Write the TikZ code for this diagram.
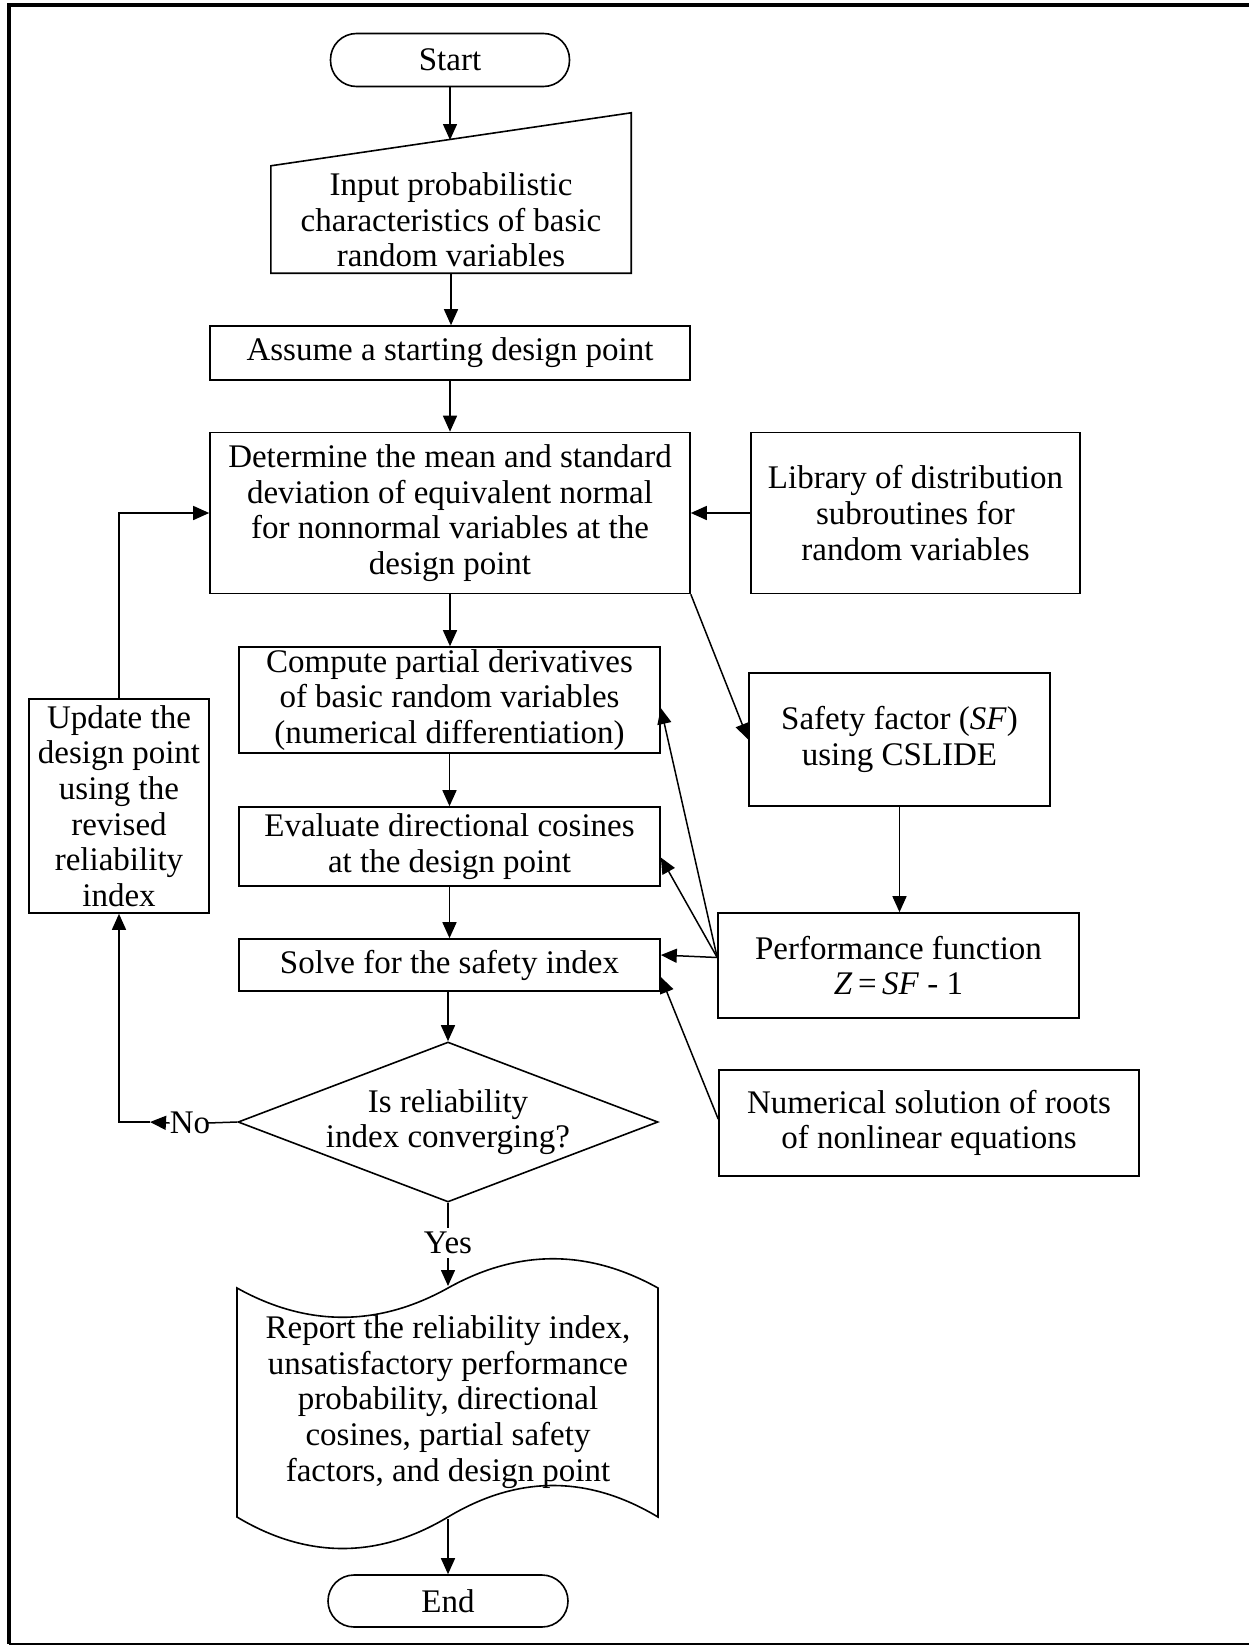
\documentclass[tikz,border=0pt]{standalone}
\usepackage{fontspec}
\setmainfont{Liberation Serif}
\usetikzlibrary{arrows.meta,shapes.geometric,calc}
\begin{document}
\begin{tikzpicture}[x=1pt,y=-1pt,
  font=\fontsize{33}{35.7}\selectfont,
  box/.style={draw,line width=1.6pt,align=center,inner sep=0pt},
  arr/.style={line width=1.5pt,-{Triangle[length=16pt,width=14pt]}},
  ln/.style={line width=1.5pt},
  lbl/.style={align=center,inner sep=0pt}]
\useasboundingbox (0,0) rectangle (1249,1646);
\fill[white] (0,0) rectangle (1249,1646);
% frame
\draw[line width=4pt] (1249,5) -- (9,5) -- (9,1644);
\draw[line width=2.5pt] (9,1644) -- (1249,1644);

% nodes
\node[box,rounded corners=26pt,minimum width=239pt,minimum height=53pt] (start) at (450,60) {Start};

\node[inner sep=0pt,minimum width=360pt,minimum height=160pt] (inp) at (451,193) {};
\draw[line width=1.6pt] (inp.south west) -- ($(inp.north west)+(0,53)$) -- (inp.north east) -- (inp.south east) -- cycle;
\node[lbl] (inptext) at (451,220) {Input probabilistic\\characteristics of basic\\random variables};
\coordinate (inptop) at (450,140);

\node[box,minimum width=480pt,minimum height=54pt] (assume) at (450,353) {Assume a starting design point};
\node[box,minimum width=480pt,minimum height=161pt] (det) at (450,513) {Determine the mean and standard\\deviation of equivalent normal\\for nonnormal variables at the\\design point};
\node[box,minimum width=329pt,minimum height=161pt] (lib) at (915.5,513) {Library of distribution\\subroutines for\\random variables};
\node[box,minimum width=421pt,minimum height=106pt] (comp) at (449.5,700) {Compute partial derivatives\\of basic random variables\\(numerical differentiation)};
\node[box,minimum width=301pt,minimum height=133pt] (safe) at (899.5,739.5) {Safety factor (\textit{SF})\\using CSLIDE};
\node[box,minimum width=180pt,minimum height=214pt] (upd) at (119,806) {Update the\\design point\\using the\\revised\\reliability\\index};
\node[box,minimum width=421pt,minimum height=79pt] (eval) at (449.5,846.5) {Evaluate directional cosines\\at the design point};
\node[box,minimum width=421pt,minimum height=52pt] (solve) at (449.5,965) {Solve for the safety index};
\node[box,minimum width=361pt,minimum height=105pt] (perf) at (898.5,965.5) {Performance function\\\textit{Z}\,=\,\textit{SF} - 1};
\node[box,minimum width=420pt,minimum height=106pt] (num) at (929,1123) {Numerical solution of roots\\of nonlinear equations};
\node[diamond,draw,line width=1.6pt,inner sep=0pt,minimum width=420pt,minimum height=160pt] (dia) at (448,1122) {};
\node[lbl] (diatext) at (448,1122) {Is reliability\\index converging?};

% report (punched tape shape)
\draw[line width=1.6pt] (237,1288) .. controls (307,1327) and (378,1327) .. (448,1288)
  .. controls (518,1249) and (588,1249) .. (658,1288) -- (658,1517)
  .. controls (588,1475) and (518,1475) .. (448,1517)
  .. controls (378,1559) and (307,1559) .. (237,1517) -- cycle;
\node[lbl] (report) at (448,1402) {Report the reliability index,\\unsatisfactory performance\\probability, directional\\cosines, partial safety\\factors, and design point};
\coordinate (rtop) at (448,1286);
\coordinate (rbot) at (448,1519);

\node[box,rounded corners=26pt,minimum width=240pt,minimum height=52pt] (end) at (448,1601) {End};

% labels
\node[lbl] (no) at (190,1123) {No};
\node[lbl] (yes) at (448,1243) {Yes};
\coordinate (ntip) at (150,1122);

% connectors
\draw[arr] (start.south) -- (inptop);
\draw[arr] (inp.south) -- (inp.south |- assume.north);
\draw[arr] (assume.south) -- (det.north);
\draw[arr] (lib.west) -- (det.east);
\draw[arr] (det.south) -- (det.south |- comp.north);
\draw[arr] (det.south east) -- (safe.west);
\draw[arr] (comp.south) -- (eval.north);
\draw[arr] (eval.south) -- (solve.north);
\draw[arr] (solve.south -| dia.north) -- (dia.north);
\draw[arr] (safe.south) -- (safe.south |- perf.north);
\draw[arr] ([yshift=8pt]perf.west) -- ([yshift=-8pt]comp.east);
\draw[arr] ([yshift=8pt]perf.west) -- ([yshift=-11pt]eval.east);
\draw[arr] ([yshift=8pt]perf.west) -- ([yshift=10pt]solve.east);
\draw[arr] ([yshift=4pt]num.west) -- ([yshift=-12pt]solve.east);
\draw[ln] (dia.west) -- ([xshift=-3pt]no.east);
\draw[arr] (no.west) -- (ntip);
\draw[arr] (ntip) -| (upd.south);
\draw[arr] (upd.north) |- (det.west);
\draw[ln] (dia.south) -- ([yshift=4pt]yes.north);
\draw[arr] ([yshift=-4pt]yes.south) -- (rtop);
\draw[arr] (rbot) -- (end.north);
\end{tikzpicture}
\end{document}
